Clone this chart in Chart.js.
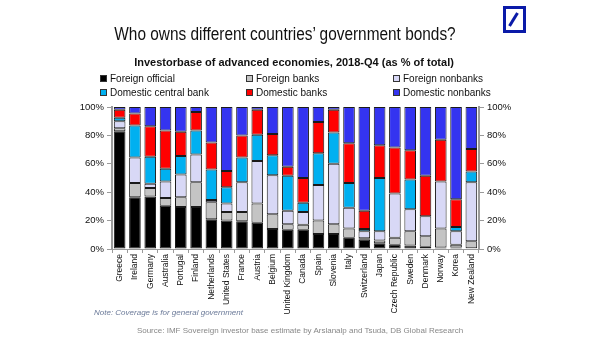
<!DOCTYPE html>
<html>
<head>
<meta charset="utf-8">
<script src="https://cdn.jsdelivr.net/npm/chart.js@4.4.1/dist/chart.umd.min.js"></script>
<style>
  html, body { margin: 0; padding: 0; background: #fff; }
  body { width: 605px; height: 341px; position: relative; overflow: hidden; font-family: "Liberation Sans", Arial, sans-serif; }
  #chart { position: absolute; left: 0; top: 0; }
  .title { position: absolute; left: 0; width: 570px; top: 25px; text-align: center; font-size: 15.4px; line-height: 18px; color: #111; transform: scaleY(1.17); }
  .subtitle { position: absolute; left: 0; width: 588px; top: 56px; text-align: center; font-size: 11px; font-weight: bold; color: #111; }
  .leg { position: absolute; font-size: 10px; line-height: 12px; color: #111; white-space: nowrap; }
  .leg i { display: inline-block; width: 5px; height: 5px; border: 1px solid #333; margin-right: 3px; vertical-align: 0px; }
  .note { position: absolute; left: 94px; top: 308px; font-size: 8px; font-style: italic; color: #6b7a99; }
  .source { position: absolute; left: 0; width: 600px; top: 326px; text-align: center; font-size: 8px; color: #888; }
  .logo { position: absolute; left: 503px; top: 6px; width: 17px; height: 21px; border: 3px solid #0a1aa8; }
</style>
</head>
<body>
<canvas id="chart" width="605" height="341"></canvas>
<div class="title">Who owns different countries’ government bonds?</div>
<div class="subtitle">Investorbase of advanced economies, 2018-Q4 (as % of total)</div>
<div id="legend"></div>
<div class="note">Note: Coverage is for general government</div>
<div class="source">Source: IMF Sovereign investor base estimate by Arslanalp and Tsuda, DB Global Research</div>
<div class="logo"><svg width="17" height="21" viewBox="0 0 17 21"><line x1="3.5" y1="17" x2="11.5" y2="4" stroke="#0a1aa8" stroke-width="3"/></svg></div>
<script>
// Countries, left to right
const countries = ["Greece", "Ireland", "Germany", "Australia", "Portugal", "Finland", "Netherlands",
  "United States", "France", "Austria", "Belgium", "United Kingdom", "Canada", "Spain", "Slovenia",
  "Italy", "Switzerland", "Japan", "Czech Republic", "Sweden", "Denmark", "Norway", "Korea", "New Zealand"];

// Holder shares, % of total
const foreignOfficial   = [83, 36.5, 37, 30.5, 29.5, 29.5, 21, 20, 19.5, 18.5, 14, 13.5, 13.5, 10.5, 10.5, 8, 6.5, 4, 3, 2.5, 1.5, 1, 1, 0.5];
const foreignBanks      = [2, 10, 6, 5.5, 7, 17.5, 12, 6, 6.5, 13.5, 10.5, 4, 3.5, 9.5, 7, 6.5, 1, 2, 5, 10, 7.5, 13.5, 2, 5];
const foreignNonbanks   = [5, 18, 3, 11.5, 16, 19.5, 1.5, 6, 21, 30, 27.5, 9.5, 9, 25, 42.5, 14.5, 5, 6.5, 31, 15.5, 14, 33, 9.5, 41.5];
const domesticCentral   = [2.5, 22.5, 19, 9, 13, 17, 21.5, 11.5, 17.5, 18.5, 14, 24.5, 6.5, 22.5, 22, 17.5, 1.5, 37.5, 0, 21, 0, 0, 3, 7.5];
const domesticBanks     = [5.5, 8.5, 21.5, 27, 17, 13, 19, 11.5, 15.5, 17.5, 15, 6.5, 17.5, 22, 16, 28, 13, 23, 32.5, 20.5, 28.5, 29.5, 19.5, 16];
const domesticNonbanks  = [2, 4.5, 13.5, 16.5, 17.5, 3.5, 25, 45, 20, 2, 19, 42, 50, 10.5, 2, 25.5, 73, 27, 28.5, 30.5, 48.5, 23, 65, 29.5];

// Axis ticks
const yTicks = [0, 20, 40, 60, 80, 100];

const series = [
  { label: "Foreign official",      data: foreignOfficial,  color: "#000000" },
  { label: "Foreign banks",         data: foreignBanks,     color: "#c4c4c4" },
  { label: "Foreign nonbanks",      data: foreignNonbanks,  color: "#d8d8f6" },
  { label: "Domestic central bank", data: domesticCentral,  color: "#00b0f0" },
  { label: "Domestic banks",        data: domesticBanks,    color: "#ff0000" },
  { label: "Domestic nonbanks",     data: domesticNonbanks, color: "#3434f0" }
];

// Legend: three columns, two rows
const legendPos = [[100, 73], [246, 73], [393, 73], [100, 87], [246, 87], [393, 87]];
const legend = document.getElementById("legend");
series.forEach((s, i) => {
  const d = document.createElement("div");
  d.className = "leg";
  d.style.left = legendPos[i][0] + "px";
  d.style.top = legendPos[i][1] + "px";
  d.innerHTML = '<i style="background:' + s.color + '"></i>' + s.label;
  legend.appendChild(d);
});

const tickFont = { family: "Liberation Sans, Arial, sans-serif", size: 9.5 };
const axisColor = "#9a9a9a";

new Chart(document.getElementById("chart"), {
  type: "bar",
  data: {
    labels: countries,
    datasets: series.map(s => ({
      label: s.label,
      data: s.data,
      backgroundColor: s.color,
      borderColor: "#1a1a1a",
      borderWidth: 1,
      borderSkipped: false,
      stack: "holders",
      barPercentage: 0.76,
      categoryPercentage: 1.0
    }))
  },
  options: {
    responsive: false,
    animation: false,
    layout: { padding: { top: 107, left: 0, right: 0, bottom: 0 } },
    plugins: { legend: { display: false }, tooltip: { enabled: false } },
    scales: {
      x: {
        stacked: true,
        offset: true,
        afterFit: s => { s.height = 92; },
        grid: { display: true, drawOnChartArea: false, offset: true, tickLength: 4, color: axisColor },
        border: { display: true, color: axisColor, width: 1 },
        ticks: { autoSkip: false, maxRotation: 90, minRotation: 90, color: "#111", padding: 1,
                 font: { family: "Liberation Sans, Arial, sans-serif", size: 8.5 } }
      },
      y: {
        stacked: true,
        position: "left",
        min: 0, max: 100,
        afterFit: s => { s.width = 112; },
        afterBuildTicks: s => { s.ticks = yTicks.map(v => ({ value: v })); },
        grid: { display: true, drawOnChartArea: false, tickLength: 5, color: axisColor },
        border: { display: true, color: axisColor, width: 2 },
        ticks: { color: "#111", padding: 3, font: tickFont, callback: v => v + "%" }
      },
      y2: {
        position: "right",
        min: 0, max: 100,
        afterFit: s => { s.width = 126; },
        afterBuildTicks: s => { s.ticks = yTicks.map(v => ({ value: v })); },
        grid: { display: true, drawOnChartArea: false, tickLength: 5, color: axisColor },
        border: { display: true, color: axisColor, width: 2 },
        ticks: { color: "#111", padding: 3, font: tickFont, callback: v => v + "%" }
      }
    }
  }
});
</script>
</body>
</html>
